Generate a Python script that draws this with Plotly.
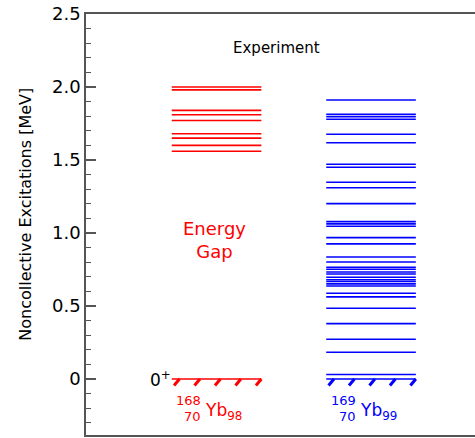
import plotly.graph_objects as go

# Level energies (MeV)
yb168_levels = [2.00, 1.98, 1.84, 1.81, 1.77, 1.68, 1.65, 1.60, 1.56]
yb169_levels = [1.911, 1.813, 1.797, 1.779, 1.676, 1.618, 1.471, 1.450, 1.347, 1.310,
                1.201, 1.078, 1.062, 1.046, 0.968, 0.925, 0.835, 0.801, 0.765, 0.751,
                0.733, 0.719, 0.697, 0.680, 0.668, 0.651, 0.637, 0.587, 0.562, 0.484,
                0.379, 0.272, 0.183, 0.030]
ground_energy = 0.0

columns = [1.0, 2.0]          # column positions for 168Yb and 169Yb
colors = ["#ff0000", "#0000ff"]
mass_numbers = ["168", "169"]
proton_numbers = ["70", "70"]
neutron_numbers = ["98", "99"]

tick_vals = [0, 0.5, 1.0, 1.5, 2.0, 2.5]
tick_text = ["0", "0.5", "1.0", "1.5", "2.0", "2.5"]

HALF = 0.29
FONT = "DejaVu Sans, Liberation Sans, Arial, sans-serif"

fig = go.Figure()

for xc, levels, col in zip(columns, [yb168_levels, yb169_levels], colors):
    xs, ys = [], []
    for e in levels + [ground_energy]:
        xs += [xc - HALF, xc + HALF, None]
        ys += [e, e, None]
    fig.add_trace(go.Scatter(x=xs, y=ys, mode="lines",
                             line=dict(color=col, width=1.6),
                             hoverinfo="skip", showlegend=False))
    # hatch marks under the ground state
    hx, hy = [], []
    n = 5
    for i in range(n):
        x0 = xc - HALF + 0.015 + i * (2 * HALF - 0.05) / (n - 1)
        hx += [x0, x0 + 0.035, None]
        hy += [ground_energy - 0.045, ground_energy, None]
    fig.add_trace(go.Scatter(x=hx, y=hy, mode="lines",
                             line=dict(color=col, width=3),
                             hoverinfo="skip", showlegend=False))

ann = []
ann.append(dict(x=1.385, y=2.27, text="Experiment", showarrow=False,
                font=dict(size=15, color="black", family=FONT)))
ann.append(dict(x=0.985, y=0.95, text="Energy<br>Gap", showarrow=False,
                font=dict(size=18, color="#ff0000", family=FONT)))
ann.append(dict(x=0.715, y=0.0, text="0<sup>+</sup>", showarrow=False,
                xanchor="right", yanchor="middle",
                font=dict(size=17, color="black", family=FONT)))
for xc, col, a, z, nn in zip(columns, colors, mass_numbers, proton_numbers, neutron_numbers):
    xl = xc - 0.085
    ann.append(dict(x=xl, y=-0.15, text=a, showarrow=False, xanchor="right",
                    yanchor="middle", font=dict(size=13, color=col, family=FONT)))
    ann.append(dict(x=xl, y=-0.26, text=z, showarrow=False, xanchor="right",
                    yanchor="middle", font=dict(size=13, color=col, family=FONT)))
    ann.append(dict(x=xl, y=-0.22, text="Yb<sub>" + nn + "</sub>", showarrow=False,
                    xanchor="left", yanchor="middle",
                    font=dict(size=17, color=col, family=FONT)))
ann.append(dict(xref="paper", yref="paper", x=-0.155, y=0.525,
                text="Noncollective Excitations [MeV]", textangle=-90,
                showarrow=False, xanchor="center", yanchor="middle",
                font=dict(size=16, color="black", family=FONT)))

fig.update_layout(
    width=475, height=438,
    margin=dict(l=86, r=0, t=14, b=3),
    paper_bgcolor="white", plot_bgcolor="white",
    annotations=ann,
    xaxis=dict(range=[0.155, 2.673], showgrid=False, zeroline=False,
               showticklabels=False, ticks="", showline=True, mirror=True,
               linecolor="#555555", linewidth=1.5),
    yaxis=dict(range=[-0.384, 2.5], showgrid=False, zeroline=False,
               tickvals=tick_vals, ticktext=tick_text, ticks="inside",
               ticklen=10, tickwidth=1.5, tickcolor="#555555",
               showline=True, linecolor="#555555", linewidth=1.5,
               tickfont=dict(size=18, color="black", family=FONT),
               minor=dict(dtick=0.1, tick0=0, ticks="inside", ticklen=5,
                          tickwidth=1.2, tickcolor="#555555")),
)

fig.write_html("out.html")
